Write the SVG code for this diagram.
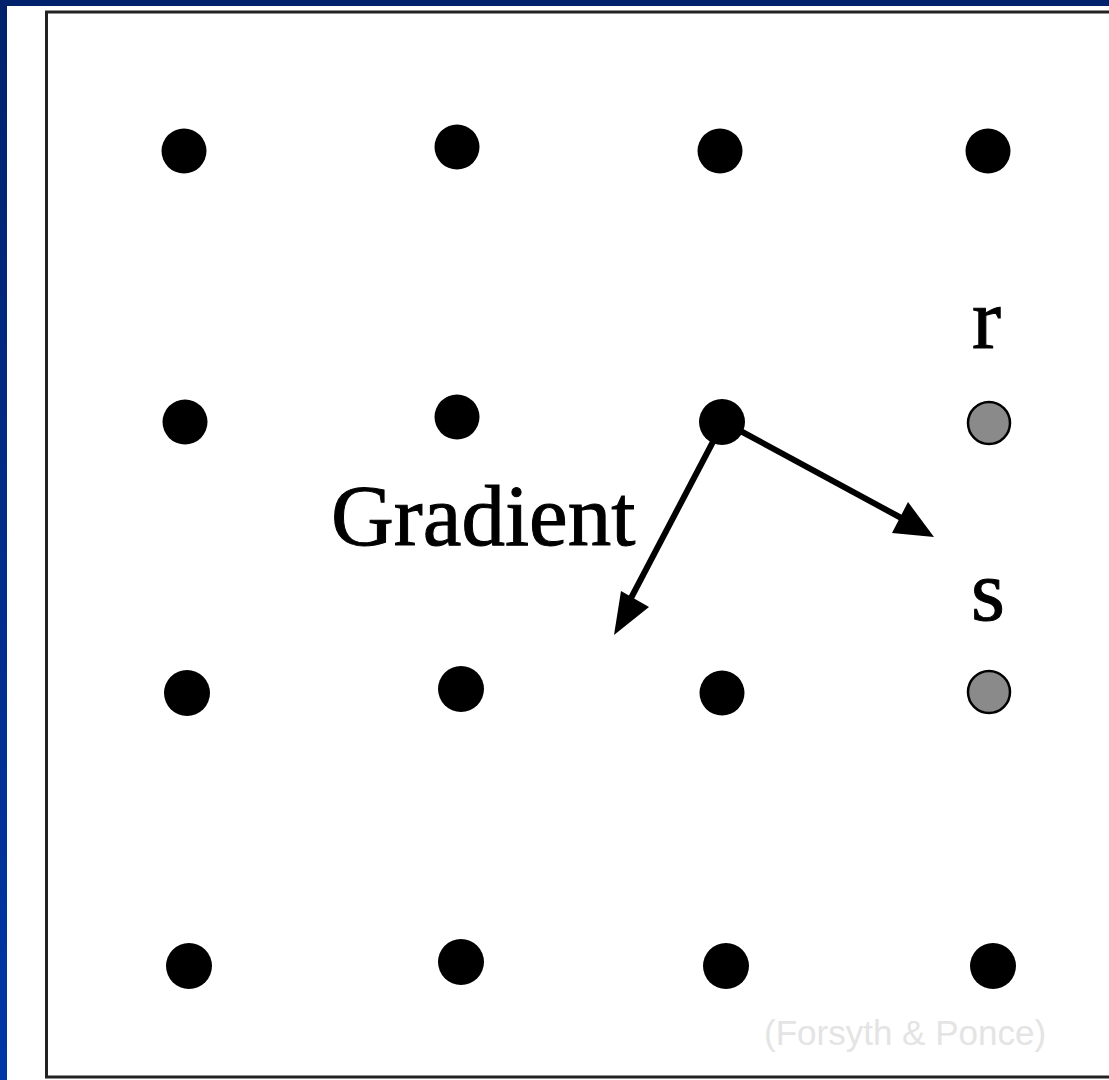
<svg xmlns="http://www.w3.org/2000/svg" width="1109" height="1080" viewBox="0 0 1109 1080">
<defs>
<linearGradient id="bg" x1="0" y1="0" x2="0" y2="1">
<stop offset="0" stop-color="#00226c"/>
<stop offset="1" stop-color="#0036a6"/>
</linearGradient>
<style>
.dot{fill:#000}
.gray{fill:#8a8a8a;stroke:#000;stroke-width:2.5}
.lbl{font-family:"Liberation Serif","Times New Roman",serif;font-size:87px;fill:#000;stroke:#000;stroke-width:1}
.cred{font-family:"Liberation Sans",Arial,sans-serif;font-size:35px;fill:#e4e4e4}
.arrow{stroke:#000;stroke-width:6;fill:none}
</style>
</defs>
<rect x="0" y="0" width="1109" height="1080" fill="url(#bg)"/>
<rect x="7" y="6" width="1102" height="1074" fill="#fff"/>
<path d="M1109,12 L46.5,12 L46.5,1077 L1109,1077" fill="none" stroke="#222" stroke-width="3"/>
<g id="dots">
<g id="n11"><circle class="dot" cx="184" cy="151" r="22.5"/></g>
<g id="n12"><circle class="dot" cx="457" cy="147" r="22.5"/></g>
<g id="n13"><circle class="dot" cx="720" cy="151" r="22.5"/></g>
<g id="n14"><circle class="dot" cx="988" cy="151" r="22.5"/></g>
<g id="n21"><circle class="dot" cx="185" cy="422" r="22.5"/></g>
<g id="n22"><circle class="dot" cx="457" cy="417" r="22.5"/></g>
<g id="n23"><circle class="dot" cx="722" cy="422" r="23"/></g>
<g id="n24"><circle class="gray" cx="989" cy="423" r="21"/></g>
<g id="n31"><circle class="dot" cx="187" cy="693" r="23"/></g>
<g id="n32"><circle class="dot" cx="461" cy="689" r="23"/></g>
<g id="n33"><circle class="dot" cx="722" cy="693" r="22.5"/></g>
<g id="n34"><circle class="gray" cx="989" cy="692" r="21"/></g>
<g id="n41"><circle class="dot" cx="189" cy="966" r="23"/></g>
<g id="n42"><circle class="dot" cx="461" cy="962" r="23"/></g>
<g id="n43"><circle class="dot" cx="726" cy="966" r="23"/></g>
<g id="n44"><circle class="dot" cx="993" cy="966" r="23"/></g>
</g>
<g id="connectors">
<line class="arrow" x1="735" y1="428" x2="905" y2="520"/>
<path d="M934,537 L892,533 L908,502 Z" fill="#000"/>
<line class="arrow" x1="716" y1="436" x2="630" y2="600"/>
<path d="M614,635 L621,591 L649,607 Z" fill="#000"/>
</g>
<g id="labels">
<text class="lbl" x="331" y="545">Gradient</text>
<text class="lbl" x="972" y="348">r</text>
<text class="lbl" x="971" y="620">s</text>
<text class="cred" x="764" y="1045">(Forsyth &amp; Ponce)</text>
</g>
</svg>
